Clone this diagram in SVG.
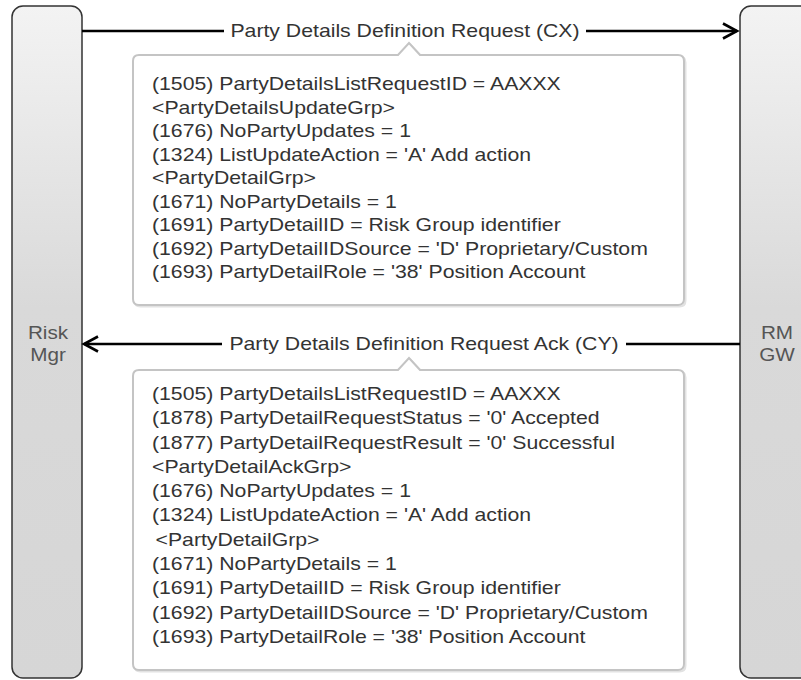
<svg xmlns="http://www.w3.org/2000/svg" width="801" height="680" viewBox="0 0 801 680">
<style>
.bar{stroke:#333;stroke-width:1.5;fill:url(#barg)}
.box{fill:#fff;stroke:#c4c4c4;stroke-width:2}
.shadow{fill:none;stroke:#e2e2e2;stroke-width:2}
.t{font-family:"Liberation Sans",Arial,sans-serif;font-size:18px;fill:#333}
.lbl{font-family:"Liberation Sans",Arial,sans-serif;font-size:18px;fill:#555;text-anchor:middle}
.conn{stroke:#000;stroke-width:2.4;fill:none}
</style>
<defs>
<linearGradient id="barg" x1="0" y1="0" x2="0" y2="1">
<stop offset="0" stop-color="#f3f3f3"/>
<stop offset="0.45" stop-color="#d9d9d9"/>
<stop offset="1" stop-color="#d6d6d6"/>
</linearGradient>
<marker id="open" viewBox="0 0 20 20" refX="17" refY="10" markerWidth="20" markerHeight="20" markerUnits="userSpaceOnUse" orient="auto">
<path d="M3,2.5 L17,10 L3,17.5" fill="none" stroke="#000" stroke-width="2.6" stroke-linejoin="miter"/>
</marker>
</defs>
<rect width="801" height="680" fill="#fff"/>
<g id="risk-mgr">
<rect class="bar" x="12" y="6" width="70" height="672" rx="11" ry="11"/>
<g transform="translate(48,0) scale(1.15,1)"><text class="lbl"><tspan x="0" y="339">Risk</tspan><tspan x="0" y="361">Mgr</tspan></text></g>
</g>
<g id="rm-gw">
<rect class="bar" x="740" y="6" width="72" height="672" rx="11" ry="11"/>
<g transform="translate(777,0) scale(1.15,1)"><text class="lbl"><tspan x="0" y="339">RM</tspan><tspan x="0" y="361">GW</tspan></text></g>
</g>
<g id="connectors">
<path class="conn" d="M82,31 H224"/>
<path class="conn" d="M586,31 H737" marker-end="url(#open)"/>
<g transform="translate(405,37) scale(1.18,1)"><text class="t" x="0" y="0" text-anchor="middle">Party Details Definition Request (CX)</text></g>
<path class="conn" d="M740,344 H626"/>
<path class="conn" d="M222,344 H84" marker-end="url(#open)"/>
<g transform="translate(424,350) scale(1.18,1)"><text class="t" x="0" y="0" text-anchor="middle">Party Details Definition Request Ack (CY)</text></g>
</g>
<g id="request-note">
<path class="shadow" transform="translate(1.5,1.5)" d="M139,55 H398 L409,43 L420,55 H678 Q684,55 684,61 V299 Q684,305 678,305 H139 Q133,305 133,299 V61 Q133,55 139,55 Z"/>
<path class="box" d="M139,55 H398 L409,43 L420,55 H678 Q684,55 684,61 V299 Q684,305 678,305 H139 Q133,305 133,299 V61 Q133,55 139,55 Z"/>
<g transform="translate(152,0) scale(1.18,1)">
<text class="t">
<tspan x="0" y="90">(1505) PartyDetailsListRequestID = AAXXX</tspan>
<tspan x="0" y="113.6">&lt;PartyDetailsUpdateGrp&gt;</tspan>
<tspan x="0" y="137.1">(1676) NoPartyUpdates = 1</tspan>
<tspan x="0" y="160.7">(1324) ListUpdateAction = 'A' Add action</tspan>
<tspan x="0" y="184.2">&lt;PartyDetailGrp&gt;</tspan>
<tspan x="0" y="207.8">(1671) NoPartyDetails = 1</tspan>
<tspan x="0" y="231.3">(1691) PartyDetailID = Risk Group identifier</tspan>
<tspan x="0" y="254.9">(1692) PartyDetailIDSource = 'D' Proprietary/Custom</tspan>
<tspan x="0" y="278.4">(1693) PartyDetailRole = '38' Position Account</tspan>
</text>
</g>
</g>
<g id="ack-note">
<path class="shadow" transform="translate(1.5,1.5)" d="M139,370 H398 L409,358 L420,370 H678 Q684,370 684,376 V664 Q684,670 678,670 H139 Q133,670 133,664 V376 Q133,370 139,370 Z"/>
<path class="box" d="M139,370 H398 L409,358 L420,370 H678 Q684,370 684,376 V664 Q684,670 678,670 H139 Q133,670 133,664 V376 Q133,370 139,370 Z"/>
<g transform="translate(152,0) scale(1.18,1)">
<text class="t">
<tspan x="0" y="400">(1505) PartyDetailsListRequestID = AAXXX</tspan>
<tspan x="0" y="424.3">(1878) PartyDetailRequestStatus = '0' Accepted</tspan>
<tspan x="0" y="448.6">(1877) PartyDetailRequestResult = '0' Successful</tspan>
<tspan x="0" y="472.9">&lt;PartyDetailAckGrp&gt;</tspan>
<tspan x="0" y="497.2">(1676) NoPartyUpdates = 1</tspan>
<tspan x="0" y="521.5">(1324) ListUpdateAction = 'A' Add action</tspan>
<tspan x="3" y="545.8">&lt;PartyDetailGrp&gt;</tspan>
<tspan x="0" y="570.1">(1671) NoPartyDetails = 1</tspan>
<tspan x="0" y="594.4">(1691) PartyDetailID = Risk Group identifier</tspan>
<tspan x="0" y="618.7">(1692) PartyDetailIDSource = 'D' Proprietary/Custom</tspan>
<tspan x="0" y="643">(1693) PartyDetailRole = '38' Position Account</tspan>
</text>
</g>
</g>
</svg>
